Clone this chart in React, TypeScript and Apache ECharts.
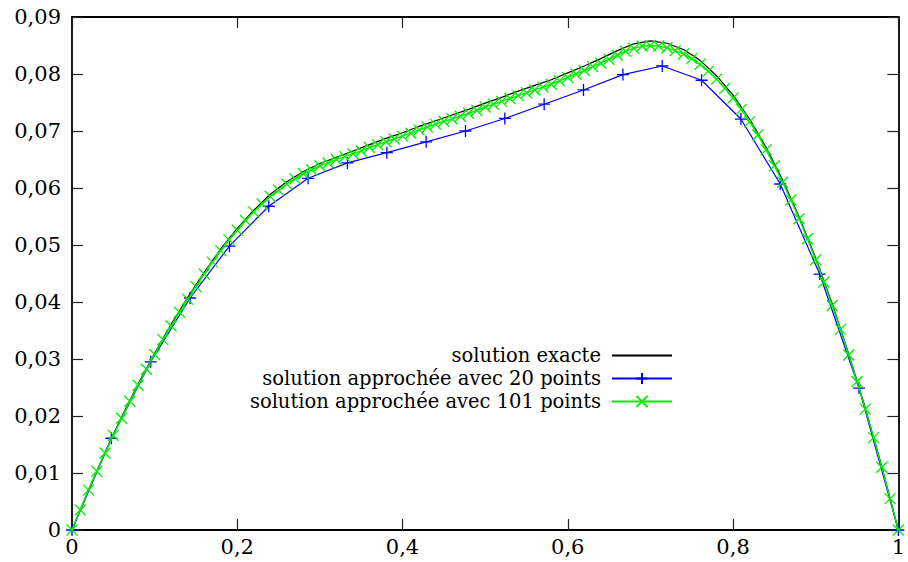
import React, { useEffect, useRef } from "react";
import * as echarts from "echarts";

// Exact solution, read at x = 0, 0.02, ..., 1
const exactX = [
  0, 0.02, 0.04, 0.06, 0.08, 0.1, 0.12, 0.14, 0.16, 0.18, 0.2, 0.22, 0.24, 0.26, 0.28, 0.3,
  0.32, 0.34, 0.36, 0.38, 0.4, 0.42, 0.44, 0.46, 0.48, 0.5, 0.52, 0.54, 0.56, 0.58, 0.6,
  0.62, 0.64, 0.66, 0.68, 0.7, 0.72, 0.74, 0.76, 0.78, 0.8, 0.82, 0.84, 0.86, 0.88, 0.9,
  0.92, 0.94, 0.96, 0.98, 1,
];
const exactY = [
  0, 0.007, 0.0136, 0.0198, 0.0256, 0.031, 0.0361, 0.0408, 0.0452, 0.0493, 0.0529, 0.0561,
  0.0589, 0.0611, 0.0629, 0.0643, 0.0654, 0.0665, 0.0676, 0.0687, 0.0697, 0.0708, 0.0718,
  0.0728, 0.0738, 0.0749, 0.0759, 0.077, 0.078, 0.079, 0.0802, 0.0814, 0.0827, 0.0841,
  0.0853, 0.0858, 0.0854, 0.0843, 0.0824, 0.0797, 0.0763, 0.0721, 0.0671, 0.0614, 0.0549,
  0.0477, 0.0397, 0.0309, 0.0214, 0.0111, 0,
];

// Approximation with 20 interior points (h = 1/21)
const approx20X = [
  0, 0.0476, 0.0952, 0.1429, 0.1905, 0.2381, 0.2857, 0.3333, 0.381, 0.4286, 0.4762, 0.5238,
  0.5714, 0.619, 0.6667, 0.7143, 0.7619, 0.8095, 0.8571, 0.9048, 0.9524, 1,
];
const approx20Y = [
  0, 0.0161, 0.0295, 0.0407, 0.0498, 0.0568, 0.0617, 0.0644, 0.0662, 0.0681, 0.07, 0.0722,
  0.0747, 0.0772, 0.0799, 0.0814, 0.0789, 0.0721, 0.0607, 0.0449, 0.0249, 0,
];

// Approximation with 101 points (h = 0.01)
const approx101X = [
  0, 0.01, 0.02, 0.03, 0.04, 0.05, 0.06, 0.07, 0.08, 0.09, 0.1,
  0.11, 0.12, 0.13, 0.14, 0.15, 0.16, 0.17, 0.18, 0.19, 0.2,
  0.21, 0.22, 0.23, 0.24, 0.25, 0.26, 0.27, 0.28, 0.29, 0.3,
  0.31, 0.32, 0.33, 0.34, 0.35, 0.36, 0.37, 0.38, 0.39, 0.4,
  0.41, 0.42, 0.43, 0.44, 0.45, 0.46, 0.47, 0.48, 0.49, 0.5,
  0.51, 0.52, 0.53, 0.54, 0.55, 0.56, 0.57, 0.58, 0.59, 0.6,
  0.61, 0.62, 0.63, 0.64, 0.65, 0.66, 0.67, 0.68, 0.69, 0.7,
  0.71, 0.72, 0.73, 0.74, 0.75, 0.76, 0.77, 0.78, 0.79, 0.8,
  0.81, 0.82, 0.83, 0.84, 0.85, 0.86, 0.87, 0.88, 0.89, 0.9,
  0.91, 0.92, 0.93, 0.94, 0.95, 0.96, 0.97, 0.98, 0.99, 1,
];
const approx101Y = [
  0, 0.0035, 0.007, 0.0103, 0.0135, 0.0166, 0.0196, 0.0226, 0.0254, 0.0282, 0.0308,
  0.0334, 0.0358, 0.0382, 0.0405, 0.0427, 0.0449, 0.047, 0.049, 0.0509, 0.0526,
  0.0543, 0.0558, 0.0572, 0.0585, 0.0596, 0.0607, 0.0616, 0.0625, 0.0632, 0.0639,
  0.0644, 0.065, 0.0655, 0.066, 0.0665, 0.0671, 0.0676, 0.0681, 0.0686, 0.0691,
  0.0696, 0.0702, 0.0707, 0.0712, 0.0717, 0.0721, 0.0726, 0.0731, 0.0736, 0.0742,
  0.0747, 0.0752, 0.0757, 0.0762, 0.0767, 0.0772, 0.0777, 0.0782, 0.0788, 0.0794,
  0.08, 0.0806, 0.0813, 0.0819, 0.0826, 0.0833, 0.084, 0.0845, 0.0849, 0.085,
  0.0849, 0.0846, 0.0841, 0.0835, 0.0827, 0.0817, 0.0805, 0.0791, 0.0775, 0.0758,
  0.0738, 0.0716, 0.0693, 0.0667, 0.0639, 0.061, 0.0579, 0.0546, 0.0511, 0.0474,
  0.0435, 0.0394, 0.0352, 0.0307, 0.026, 0.0212, 0.0162, 0.011, 0.0055, 0,
];

const seriesNames = [
  "solution exacte",
  "solution approchée avec 20 points",
  "solution approchée avec 101 points",
];

const FONT = "DejaVu Serif";

const fmt = (v: number) => String(parseFloat(v.toFixed(4))).replace(".", ",");

const zip = (xs: number[], ys: number[]) => xs.map((x, i) => [x, ys[i]]);

export default function App() {
  const ref = useRef<HTMLDivElement>(null);

  useEffect(() => {
    document.body.style.margin = "0";
    if (!ref.current) return;
    const chart = echarts.init(ref.current, undefined, { renderer: "svg" });

    const tickCommon = {
      show: true,
      inside: true,
      length: 11,
      lineStyle: { color: "#222", width: 1.2 },
    };
    const lineCommon = { show: true, onZero: false, lineStyle: { color: "#000", width: 1.8 } };

    chart.setOption({
      animation: false,
      backgroundColor: "#fff",
      grid: { left: 72, right: 2, top: 17, bottom: 32, containLabel: false },
      xAxis: [
        {
          type: "value",
          min: 0,
          max: 1,
          interval: 0.2,
          position: "bottom",
          axisLine: lineCommon,
          axisTick: tickCommon,
          splitLine: { show: false },
          axisLabel: {
            formatter: fmt,
            fontFamily: FONT,
            fontSize: 21,
            color: "#000",
            margin: 6,
            showMinLabel: true,
            showMaxLabel: true,
          },
        },
        {
          type: "value",
          min: 0,
          max: 1,
          interval: 0.2,
          position: "top",
          axisLine: lineCommon,
          axisTick: tickCommon,
          splitLine: { show: false },
          axisLabel: { show: false },
        },
      ],
      yAxis: [
        {
          type: "value",
          min: 0,
          max: 0.09,
          interval: 0.01,
          position: "left",
          axisLine: lineCommon,
          axisTick: tickCommon,
          splitLine: { show: false },
          axisLabel: {
            formatter: fmt,
            fontFamily: FONT,
            fontSize: 21,
            color: "#000",
            margin: 11,
            showMinLabel: true,
            showMaxLabel: true,
          },
        },
        {
          type: "value",
          min: 0,
          max: 0.09,
          interval: 0.01,
          position: "right",
          axisLine: lineCommon,
          axisTick: tickCommon,
          splitLine: { show: false },
          axisLabel: { show: false },
        },
      ],
      legend: {
        orient: "vertical",
        align: "right",
        right: 235,
        top: 344,
        padding: 0,
        itemGap: 0,
        itemWidth: 60,
        itemHeight: 14,
        selectedMode: false,
        data: [
          { name: seriesNames[0], itemStyle: { opacity: 0 } },
          { name: seriesNames[1] },
          { name: seriesNames[2] },
        ],
        textStyle: {
          fontFamily: FONT,
          fontSize: 19.5,
          color: "#000",
          lineHeight: 23,
          padding: [0, 6, 0, 0],
        },
      },
      series: [
        {
          name: seriesNames[0],
          type: "line",
          data: zip(exactX, exactY),
          showSymbol: false,
          symbol: "none",
          lineStyle: { color: "#000", width: 1.2 },
          itemStyle: { color: "rgba(0,0,0,0)" },
          silent: true,
          z: 2,
        },
        {
          name: seriesNames[1],
          type: "line",
          data: zip(approx20X, approx20Y),
          symbol: "path://M0,5L10,5M5,0L5,10",
          symbolSize: 12,
          showAllSymbol: true,
          lineStyle: { color: "#0000ff", width: 1.2 },
          itemStyle: { color: "#0000ff", borderColor: "#0000ff", borderWidth: 1.3 },
          silent: true,
          z: 3,
        },
        {
          name: seriesNames[2],
          type: "line",
          data: zip(approx101X, approx101Y),
          symbol: "path://M0,0L10,10M10,0L0,10",
          symbolSize: 11,
          showAllSymbol: true,
          lineStyle: { color: "#00ee00", width: 1.4 },
          itemStyle: { color: "#00ee00", borderColor: "#00ee00", borderWidth: 1.3 },
          silent: true,
          z: 4,
        },
      ],
    });

    return () => chart.dispose();
  }, []);

  return <div ref={ref} style={{ width: 908, height: 562 }} />;
}
